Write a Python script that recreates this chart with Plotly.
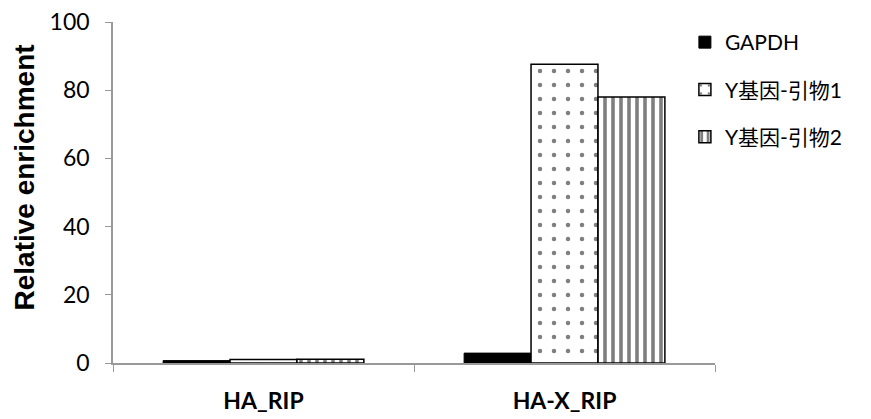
import plotly.graph_objects as go

# données
categories = ["HA_RIP", "HA-X_RIP"]
gapdh = [0.7, 2.9]
y_primer1 = [1.0, 87.6]
y_primer2 = [1.1, 78.0]
y_ticks = [0, 20, 40, 60, 80, 100]

font_family = "Lato, Noto Sans CJK SC, sans-serif"

fig = go.Figure()

fig.add_trace(go.Bar(
    x=categories, y=gapdh, name="GAPDH", legendgroup="a",
    marker=dict(color="black", line=dict(color="black", width=1)),
))
fig.add_trace(go.Bar(
    x=categories, y=y_primer1, name="Y基因-引物1", legendgroup="b",
    marker=dict(color="white", line=dict(color="black", width=1.5),
                pattern=dict(shape=".", fgcolor="black", bgcolor="white",
                             size=14, solidity=0.08)),
))
fig.add_trace(go.Bar(
    x=categories, y=y_primer2, name="Y基因-引物2", legendgroup="c",
    marker=dict(color="white", line=dict(color="black", width=1.5),
                pattern=dict(shape="|", fgcolor="black", bgcolor="white",
                             size=8, solidity=0.45)),
))

# la page html ajoute une marge de 8px autour du graphique
fig.update_layout(
    width=863, height=411,
    margin=dict(l=105, r=156, t=14, b=56),
    plot_bgcolor="white", paper_bgcolor="white",
    barmode="group", bargap=0.333, bargroupgap=0,
    font=dict(family=font_family, size=21, color="black"),
    legend=dict(x=0.95, y=1.0, xanchor="left", yanchor="top",
                font=dict(size=21), tracegroupgap=17,
                bgcolor="rgba(0,0,0,0)"),
    showlegend=True,
)

# titre de l'axe y en annotation pour le placer comme sur l'image
fig.add_annotation(
    text="<b>Relative enrichment</b>", textangle=-90,
    xref="paper", yref="paper", x=0, y=0.544,
    xanchor="center", yanchor="middle", xshift=-89, showarrow=False,
    font=dict(size=28, family="Liberation Sans, Arial, sans-serif", color="black"),
)

fig.update_xaxes(
    showline=True, linecolor="#999999", linewidth=1.5,
    ticks="outside", tickson="boundaries", ticklen=7, tickcolor="#999999",
    tickfont=dict(size=23, family="Lato, sans-serif", weight="bold"),
    ticklabelstandoff=17, automargin=False,
    showgrid=False,
)
fig.update_yaxes(
    range=[0, 100], tickvals=y_ticks,
    showline=True, linecolor="#999999", linewidth=1.5,
    ticks="outside", ticklen=6, tickcolor="#999999",
    tickfont=dict(size=23),
    ticklabelstandoff=11, ticklabeloverflow="allow", automargin=False,
    showgrid=False, zeroline=False,
)

fig.write_html("out.html")
